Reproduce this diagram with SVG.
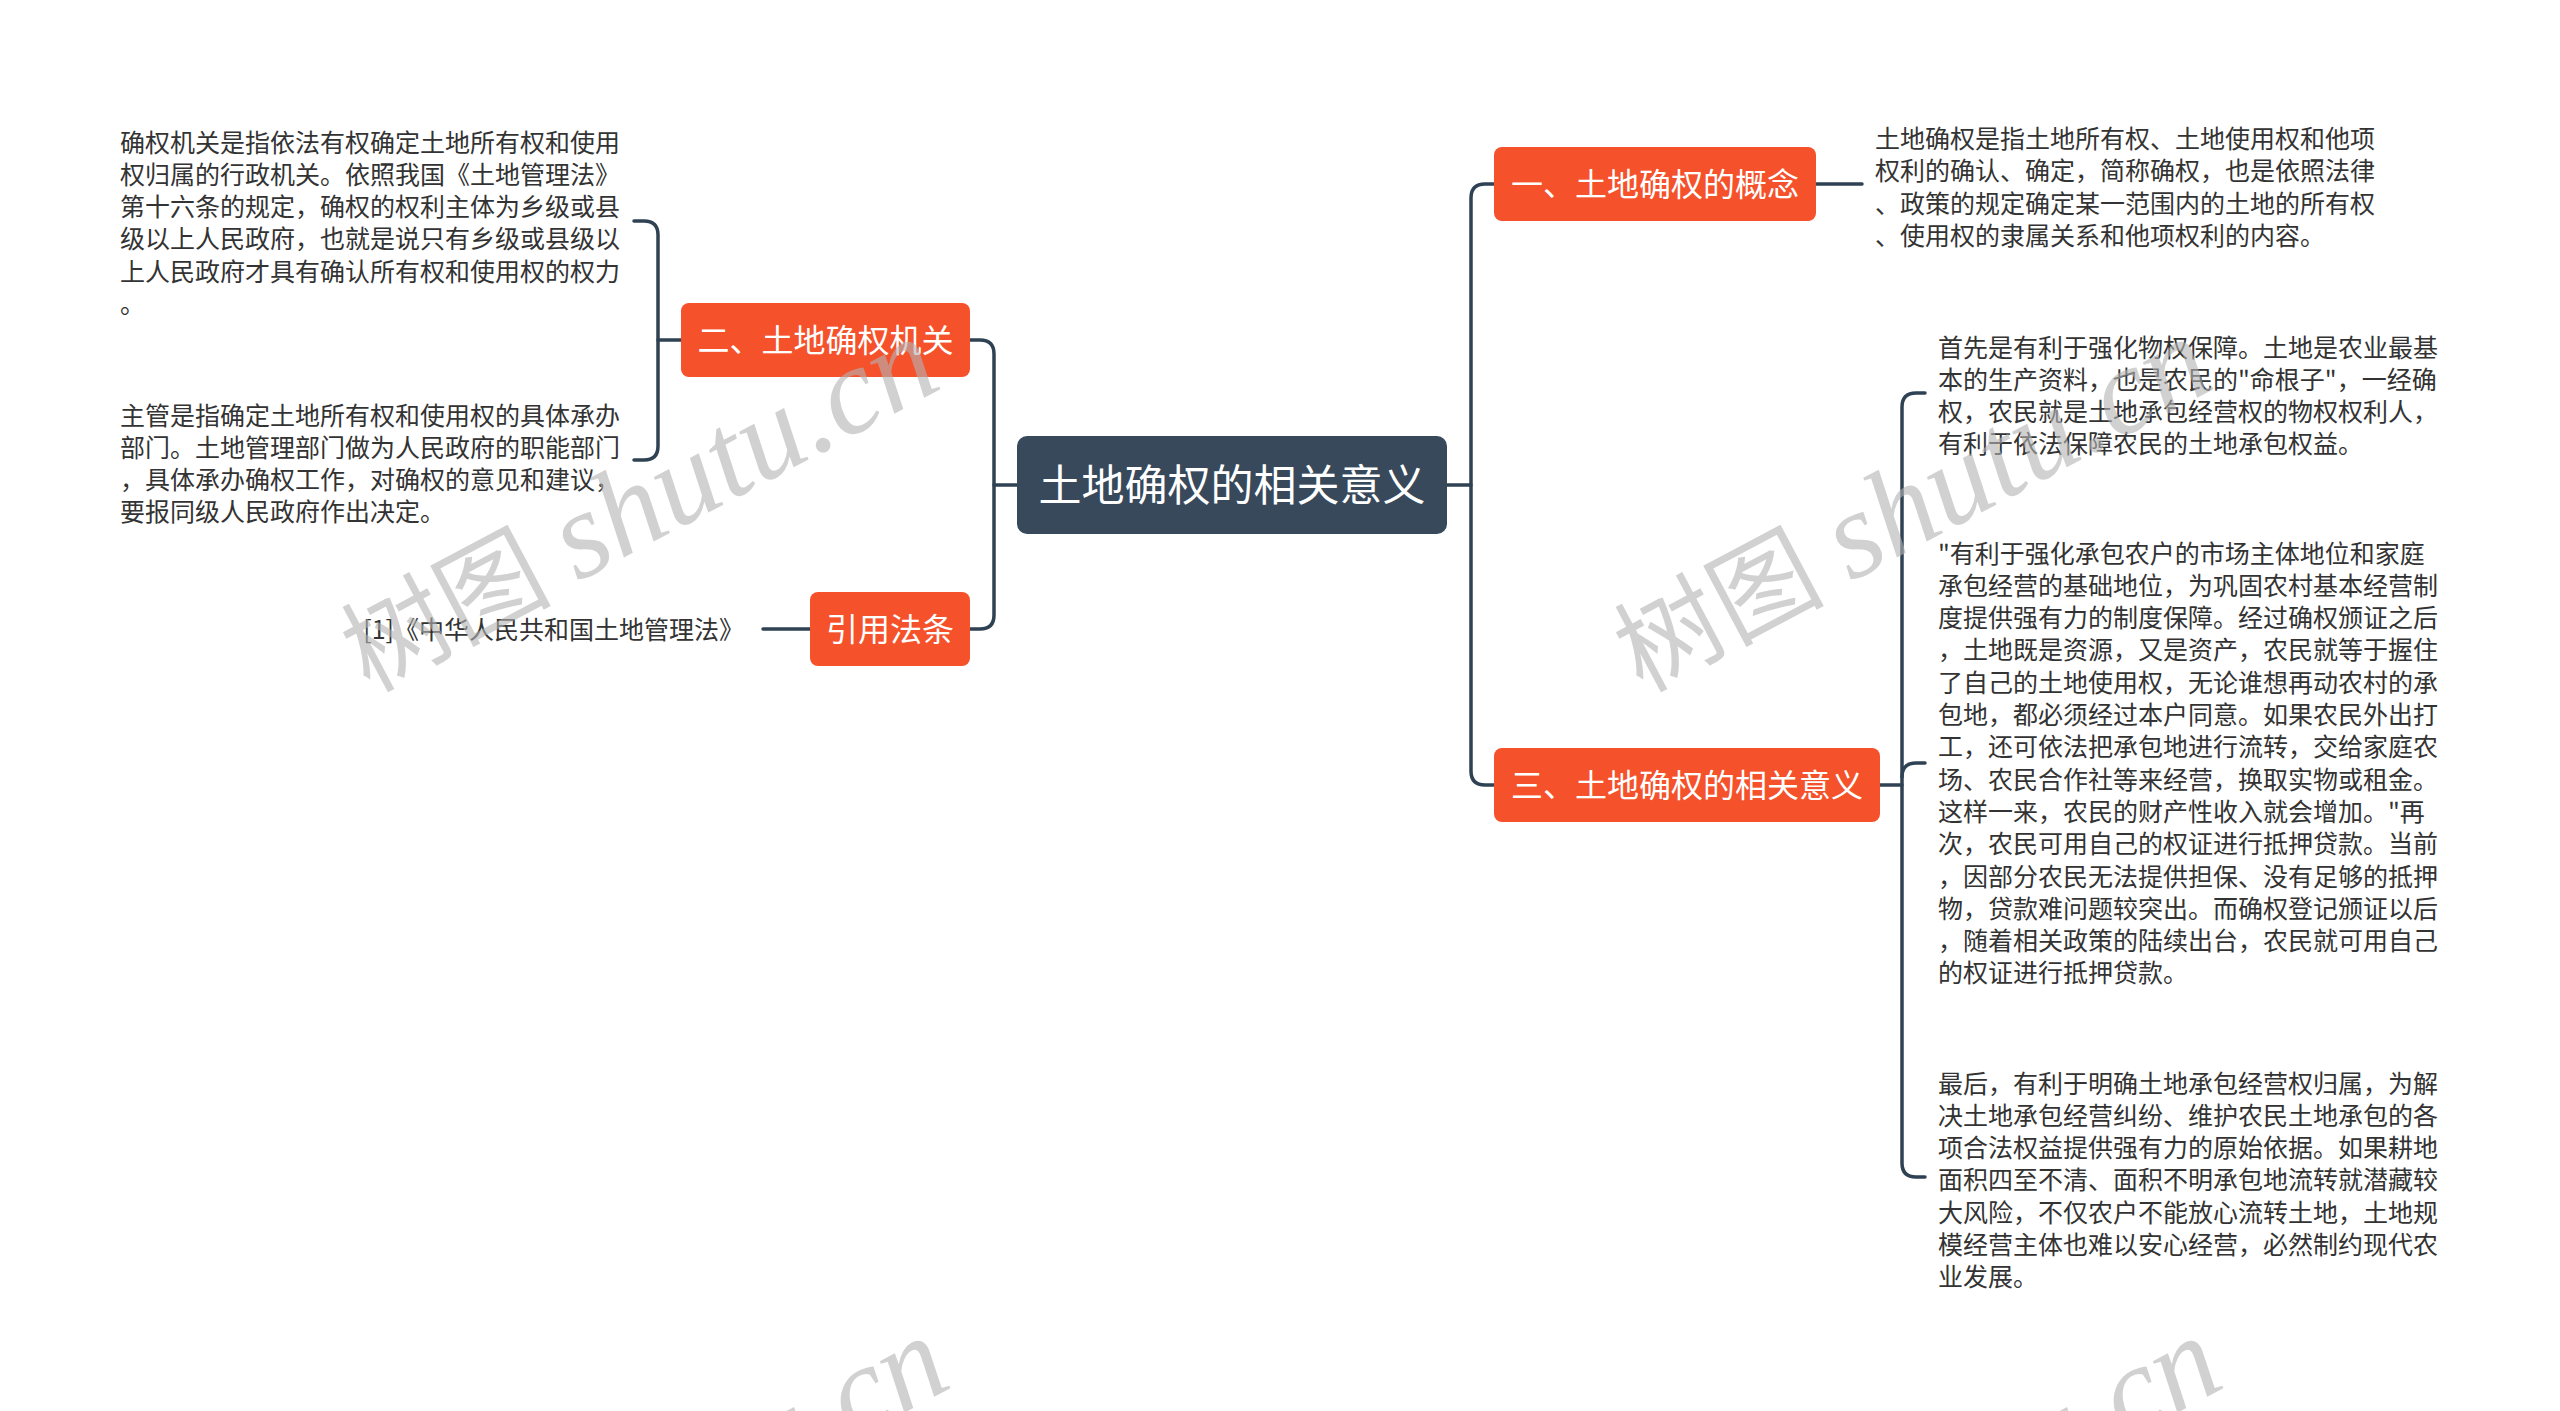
<svg xmlns="http://www.w3.org/2000/svg" width="2560" height="1411" viewBox="0 0 2560 1411">
<style>
.bg{fill:#ffffff}
.conn{fill:none;stroke:#2f4254;stroke-width:3.5;stroke-linecap:round}
.orange{fill:#f5512b}
.root{fill:#37495b}
.nt{font-family:"Noto Sans CJK SC","Noto Sans",sans-serif;fill:#ffffff;text-anchor:middle}
.body{font-family:"Noto Sans CJK SC","Noto Sans",sans-serif;font-size:25px;fill:#333333}
.wm{fill:#b4b4b4;opacity:0.6}
.wmc{font-family:"Noto Sans CJK SC",sans-serif;font-size:105px}
.wml{font-family:"Liberation Serif",serif;font-style:italic;font-size:124px}
</style>
<rect class="bg" x="0" y="0" width="2560" height="1411"/>

<g id="connectors">
  <path class="conn" d="M1447,485 H1471"/>
  <path class="conn" d="M1494,184 H1485 Q1471,184 1471,198 V771 Q1471,785 1485,785 H1494"/>
  <path class="conn" d="M1017,485 H994"/>
  <path class="conn" d="M970,340 H980 Q994,340 994,354 V615 Q994,629 980,629 H970"/>
  <path class="conn" d="M681,340 H658"/>
  <path class="conn" d="M634,221 H644 Q658,221 658,235 V446 Q658,460 644,460 H634"/>
  <path class="conn" d="M810,629 H763"/>
  <path class="conn" d="M1816,184 H1862"/>
  <path class="conn" d="M1880,785 H1902"/>
  <path class="conn" d="M1925,393 H1916 Q1902,393 1902,407 V1163 Q1902,1177 1916,1177 H1925"/>
  <path class="conn" d="M1902,777 Q1902,763 1916,763 H1925"/>
</g>

<g id="root">
  <rect class="root" x="1017" y="436" width="430" height="98" rx="10"/>
  <text class="nt" x="1232" y="501" font-size="43">土地确权的相关意义</text>
</g>

<g id="node-concept">
  <rect class="orange" x="1494" y="147" width="322" height="74" rx="8"/>
  <text class="nt" x="1655" y="196" font-size="32">一、土地确权的概念</text>
</g>
<g id="node-concept-text">
  <text class="body" x="1875" y="148">
    <tspan x="1875" dy="0">土地确权是指土地所有权、土地使用权和他项</tspan>
    <tspan x="1875" dy="32.3">权利的确认、确定，简称确权，也是依照法律</tspan>
    <tspan x="1875" dy="32.3">、政策的规定确定某一范围内的土地的所有权</tspan>
    <tspan x="1875" dy="32.3">、使用权的隶属关系和他项权利的内容。</tspan>
  </text>
</g>

<g id="node-meaning">
  <rect class="orange" x="1494" y="748" width="386" height="74" rx="8"/>
  <text class="nt" x="1687" y="797" font-size="32">三、土地确权的相关意义</text>
</g>
<g id="node-meaning-1">
  <text class="body" x="1938" y="356.5">
    <tspan x="1938" dy="0">首先是有利于强化物权保障。土地是农业最基</tspan>
    <tspan x="1938" dy="32.3">本的生产资料，也是农民的"命根子"，一经确</tspan>
    <tspan x="1938" dy="32.3">权，农民就是土地承包经营权的物权权利人，</tspan>
    <tspan x="1938" dy="32.3">有利于依法保障农民的土地承包权益。</tspan>
  </text>
</g>
<g id="node-meaning-2">
  <text class="body" x="1938" y="562.5">
    <tspan x="1938" dy="0">"有利于强化承包农户的市场主体地位和家庭</tspan>
    <tspan x="1938" dy="32.3">承包经营的基础地位，为巩固农村基本经营制</tspan>
    <tspan x="1938" dy="32.3">度提供强有力的制度保障。经过确权颁证之后</tspan>
    <tspan x="1938" dy="32.3">，土地既是资源，又是资产，农民就等于握住</tspan>
    <tspan x="1938" dy="32.3">了自己的土地使用权，无论谁想再动农村的承</tspan>
    <tspan x="1938" dy="32.3">包地，都必须经过本户同意。如果农民外出打</tspan>
    <tspan x="1938" dy="32.3">工，还可依法把承包地进行流转，交给家庭农</tspan>
    <tspan x="1938" dy="32.3">场、农民合作社等来经营，换取实物或租金。</tspan>
    <tspan x="1938" dy="32.3">这样一来，农民的财产性收入就会增加。"再</tspan>
    <tspan x="1938" dy="32.3">次，农民可用自己的权证进行抵押贷款。当前</tspan>
    <tspan x="1938" dy="32.3">，因部分农民无法提供担保、没有足够的抵押</tspan>
    <tspan x="1938" dy="32.3">物，贷款难问题较突出。而确权登记颁证以后</tspan>
    <tspan x="1938" dy="32.3">，随着相关政策的陆续出台，农民就可用自己</tspan>
    <tspan x="1938" dy="32.3">的权证进行抵押贷款。</tspan>
  </text>
</g>
<g id="node-meaning-3">
  <text class="body" x="1938" y="1092.5">
    <tspan x="1938" dy="0">最后，有利于明确土地承包经营权归属，为解</tspan>
    <tspan x="1938" dy="32.3">决土地承包经营纠纷、维护农民土地承包的各</tspan>
    <tspan x="1938" dy="32.3">项合法权益提供强有力的原始依据。如果耕地</tspan>
    <tspan x="1938" dy="32.3">面积四至不清、面积不明承包地流转就潜藏较</tspan>
    <tspan x="1938" dy="32.3">大风险，不仅农户不能放心流转土地，土地规</tspan>
    <tspan x="1938" dy="32.3">模经营主体也难以安心经营，必然制约现代农</tspan>
    <tspan x="1938" dy="32.3">业发展。</tspan>
  </text>
</g>

<g id="node-authority">
  <rect class="orange" x="681" y="303" width="289" height="74" rx="8"/>
  <text class="nt" x="825.5" y="352" font-size="32">二、土地确权机关</text>
</g>
<g id="node-authority-1">
  <text class="body" x="120" y="151.5">
    <tspan x="120" dy="0">确权机关是指依法有权确定土地所有权和使用</tspan>
    <tspan x="120" dy="32.3">权归属的行政机关。依照我国《土地管理法》</tspan>
    <tspan x="120" dy="32.3">第十六条的规定，确权的权利主体为乡级或县</tspan>
    <tspan x="120" dy="32.3">级以上人民政府，也就是说只有乡级或县级以</tspan>
    <tspan x="120" dy="32.3">上人民政府才具有确认所有权和使用权的权力</tspan>
    <tspan x="120" dy="32.3">。</tspan>
  </text>
</g>
<g id="node-authority-2">
  <text class="body" x="120" y="424.5">
    <tspan x="120" dy="0">主管是指确定土地所有权和使用权的具体承办</tspan>
    <tspan x="120" dy="32.3">部门。土地管理部门做为人民政府的职能部门</tspan>
    <tspan x="120" dy="32.3">，具体承办确权工作，对确权的意见和建议，</tspan>
    <tspan x="120" dy="32.3">要报同级人民政府作出决定。</tspan>
  </text>
</g>

<g id="node-law">
  <rect class="orange" x="810" y="592" width="160" height="74" rx="8"/>
  <text class="nt" x="890" y="641" font-size="32">引用法条</text>
</g>
<g id="node-law-1">
  <text class="body" x="744" y="638.5" text-anchor="end">[1]《中华人民共和国土地管理法》</text>
</g>

<g id="watermarks">
  <text class="wm" transform="translate(369,693) rotate(-28)"><tspan class="wmc">树图</tspan><tspan class="wml" dx="26">shutu.cn</tspan></text>
  <text class="wm" transform="translate(1642,693) rotate(-28)"><tspan class="wmc">树图</tspan><tspan class="wml" dx="26">shutu.cn</tspan></text>
  <text class="wm" transform="translate(379,1692) rotate(-28)"><tspan class="wmc">树图</tspan><tspan class="wml" dx="26">shutu.cn</tspan></text>
  <text class="wm" transform="translate(1652,1692) rotate(-28)"><tspan class="wmc">树图</tspan><tspan class="wml" dx="26">shutu.cn</tspan></text>
</g>
</svg>
